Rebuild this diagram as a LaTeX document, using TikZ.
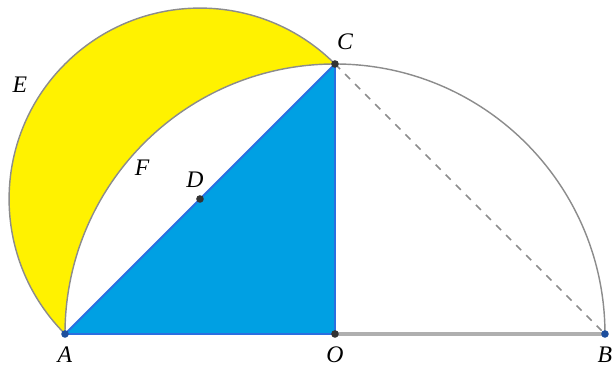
\documentclass[tikz,border=0pt]{standalone}
\usepackage{fontspec}
\setmainfont{Liberation Serif}
\usetikzlibrary{calc}
\definecolor{amarillo}{HTML}{FFF200}
\definecolor{celeste}{HTML}{00A0E3}
\definecolor{azulborde}{HTML}{2A6FE0}
\definecolor{gris}{HTML}{8C8C8C}
\tikzset{
  arco/.style={draw=gris, line width=0.6pt},
  lado/.style={draw=azulborde, line width=0.8pt},
  punto/.style={circle, fill=black!80, inner sep=0pt, minimum size=3.2pt},
  puntoa/.style={circle, fill=azulborde!70!black, inner sep=0pt, minimum size=3.2pt},
  etiq/.style={font=\fontsize{10}{11}\selectfont\itshape, inner sep=0pt},
}
\begin{document}
\begin{tikzpicture}
  \useasboundingbox (-4.963,-0.593) rectangle (4.119,4.948);
  \coordinate (O) at (0,0);
  \coordinate (A) at (-4,0);
  \coordinate (B) at (4,0);
  \coordinate (C) at (0,4);
  \coordinate (D) at (-2,2);
  % luna
  \fill[amarillo] (C) arc[start angle=45, end angle=225, radius=2.8284]
    arc[start angle=180, end angle=90, radius=4];
  % triangulo AOC
  \fill[celeste] (A) -- (O) -- (C) -- cycle;
  \draw[arco] (C) arc[start angle=45, end angle=225, radius=2.8284];
  \draw[arco] (B) arc[start angle=0, end angle=180, radius=4];
  \draw[draw=gris!70, line width=1.6pt] (O) -- (B);
  \draw[arco, dashed] (C) -- (B);
  \draw[lado] (A) -- (O) -- (C) -- cycle;
  \node[punto] (pO) at (O) {};
  \node[punto] (pC) at (C) {};
  \node[punto] (pD) at (D) {};
  \node[puntoa] (pA) at (A) {};
  \node[puntoa] (pB) at (B) {};
  \node[etiq] (lA) at (-4,-0.311) {A};
  \node[etiq] (lO) at (0,-0.311) {O};
  \node[etiq] (lB) at (4,-0.311) {B};
  \node[etiq] (lC) at (0.148,4.326) {C};
  \node[etiq] (lD) at (-2.074,2.281) {D};
  \node[etiq] (lE) at (-4.667,3.689) {E};
  \node[etiq] (lF) at (-2.859,2.459) {F};
\end{tikzpicture}
\end{document}
